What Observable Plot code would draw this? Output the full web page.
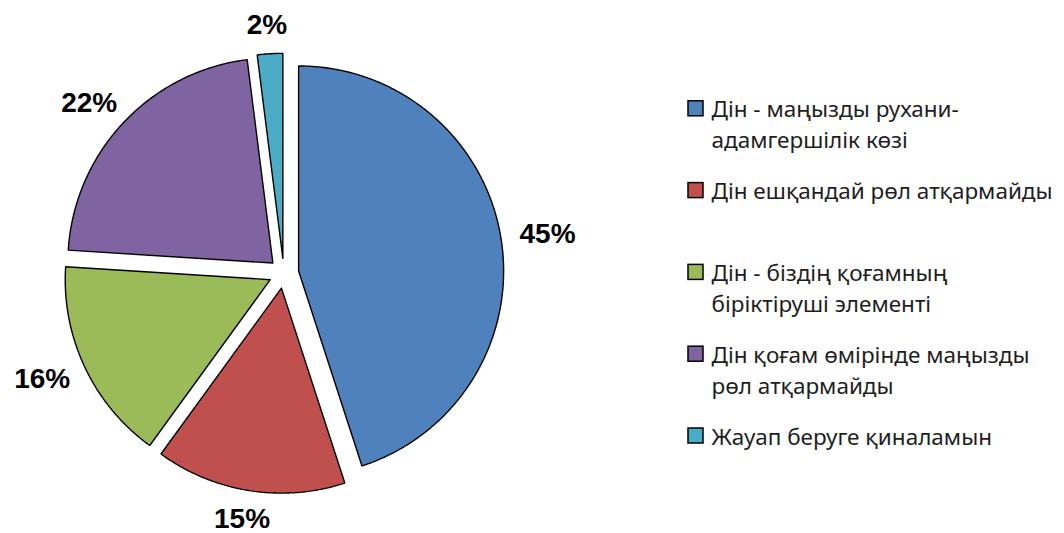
<!DOCTYPE html>
<html><head><meta charset="utf-8">
<script src="https://cdn.jsdelivr.net/npm/d3@7"></script>
<script src="https://cdn.jsdelivr.net/npm/@observablehq/plot@0.6"></script>
<style>html,body{margin:0;padding:0;background:#fff;} #chart svg{display:block;}</style>
</head><body><div id="chart"></div>
<script>
// ---- data ----
const categories = [
  "Дін - маңызды рухани-адамгершілік көзі",
  "Дін ешқандай рөл атқармайды",
  "Дін - біздің қоғамның біріктіруші элементі",
  "Дін қоғам өмірінде маңызды рөл атқармайды",
  "Жауап беруге қиналамын"
];
const legendLines = [
  ["Дін - маңызды рухани-", "адамгершілік көзі"],
  ["Дін ешқандай рөл атқармайды"],
  ["Дін - біздің қоғамның", "біріктіруші элементі"],
  ["Дін қоғам өмірінде маңызды", "рөл атқармайды"],
  ["Жауап беруге қиналамын"]
];
const values = [45, 15, 16, 22, 2];
const percentLabels = ["45%", "15%", "16%", "22%", "2%"];
const colors = ["#4F81BD", "#C0504D", "#9BBB59", "#8064A2", "#4BACC6"];

// ---- layout ----
const W = 1064, H = 533;
const cx = 283.3, cy = 272.8, R = 205, explode = 15;
const labelGap = 20, labelHalfW = 27, labelHalfH = 9;
const legendX = 688, legendBox = 15, legendTop = 100.8, legendStep = 81.8, legendLineH = 31;

const total = d3.sum(values);
const slices = [];
const labels = [];
let acc = 0;
values.forEach((v, i) => {
  const a0 = acc / total * 2 * Math.PI;
  acc += v;
  const a1 = acc / total * 2 * Math.PI;
  const m = (a0 + a1) / 2;
  const ox = cx + explode * Math.sin(m), oy = cy - explode * Math.cos(m);
  const key = categories[i];
  slices.push({key, x: ox, y: oy});
  const n = Math.max(2, Math.ceil((a1 - a0) / (Math.PI / 360)));
  for (let k = 0; k <= n; k++) {
    const a = a0 + (a1 - a0) * k / n;
    slices.push({key, x: ox + R * Math.sin(a), y: oy - R * Math.cos(a)});
  }
  slices.push({key, x: ox, y: oy});
  const lr = R + explode + labelGap;
  labels.push({
    text: percentLabels[i],
    x: cx + lr * Math.sin(m) + labelHalfW * Math.sin(m),
    y: cy - lr * Math.cos(m) - labelHalfH * Math.cos(m)
  });
});

const legendRects = categories.map((key, i) => ({
  key, x1: legendX, x2: legendX + legendBox,
  y1: legendTop + i * legendStep, y2: legendTop + i * legendStep + legendBox
}));
const legendTexts = legendLines.flatMap((lines, i) => lines.map((t, j) => ({
  text: t, x: legendX + legendBox + 8,
  y: legendTop + i * legendStep + 16 + j * legendLineH
})));

const chart = Plot.plot({
  width: W, height: H, margin: 0,
  x: {domain: [0, W], range: [0, W], axis: null},
  y: {domain: [0, H], range: [0, H], axis: null},
  color: {domain: categories, range: colors},
  style: {background: "#fff"},
  marks: [
    Plot.line(slices, {x: "x", y: "y", z: "key", fill: "key", stroke: "#000", strokeWidth: 1.4, strokeLinejoin: "miter", curve: "linear"}),
    Plot.text(labels, {x: "x", y: "y", text: "text", fontSize: 28, fontWeight: "bold", fontFamily: "Liberation Sans", fill: "#000", textAnchor: "middle", lineAnchor: "middle"}),
    Plot.rect(legendRects, {x1: "x1", x2: "x2", y1: "y1", y2: "y2", fill: "key", stroke: "#000", strokeWidth: 1.5}),
    Plot.text(legendTexts, {x: "x", y: "y", text: "text", fontSize: 22.5, fontFamily: "Noto Sans", fill: "#1e1e1e", textAnchor: "start", lineAnchor: "bottom"})
  ]
});
document.getElementById("chart").appendChild(chart);
</script>
</body></html>
